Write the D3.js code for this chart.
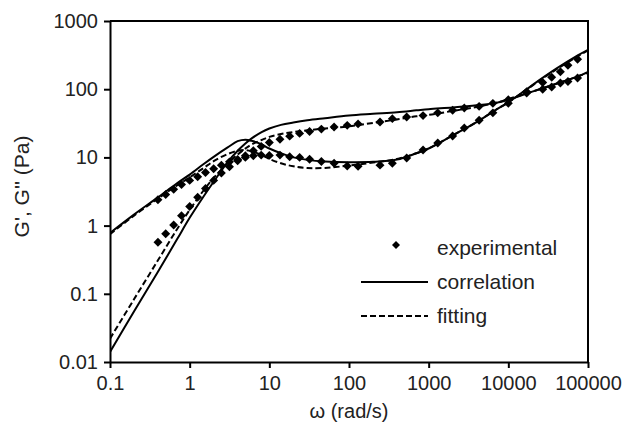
<!DOCTYPE html>
<html>
<head>
<meta charset="utf-8">
<script src="https://cdn.jsdelivr.net/npm/d3@7"></script>
<style>
  body { margin: 0; background: #fff; }
  svg { display: block; font-family: 'Liberation Sans', Arial, sans-serif; }
</style>
</head>
<body>
<svg id="chart" width="628" height="430" viewBox="0 0 628 430"></svg>
<script>
'use strict';

/* global d3 */

// experimental points
var omegaExp = [0.4, 0.5, 0.63, 0.79, 1.0, 1.26, 1.58, 2.0, 2.5, 3.16, 4.0, 5.0, 6.3, 7.9, 10,
  13.6, 18, 24, 32, 45, 65, 95, 130, 245, 350, 530, 850, 1300, 2000, 2800, 4300, 6400,
  10000, 17000, 27000, 35000, 45000, 56000, 74000];
var gPrimeExp = [0.57, 0.76, 1.02, 1.4, 1.9, 2.6, 3.5, 4.6, 5.9, 7.3, 8.9, 10.6, 12.5, 14.5, 16.5,
  18.5, 20.5, 22.5, 24, 26, 28, 29.5, 31, 33, 37, 39, 41, 45, 49, 53, 56, 62,
  70, 88, 100, 108, 123, 130, 146];
var gDoubleExp = [2.4, 2.85, 3.4, 4.0, 4.6, 5.2, 6.0, 6.8, 7.7, 8.6, 9.3, 10, 10.6, 10.8, 10.7,
  10.8, 10.2, 10, 9.4, 8.7, 8.2, 7.5, 7.4, 7.7, 8.2, 9.8, 12.8, 16.3, 20.6, 27, 35, 45,
  62, 92, 125, 150, 180, 225, 275];

// model curves
var omegaModel = [0.1, 0.2, 0.4, 0.7, 1, 1.5, 2, 3, 4, 5, 6, 8, 10, 14, 20, 30, 50, 100, 200,
  400, 700, 1000, 2000, 4000, 7000, 10000, 20000, 40000, 70000, 100000];
var gPrimeCorr = [0.014, 0.055, 0.21, 0.64, 1.3, 2.7, 4.4, 8.5, 12.5, 16, 19, 23.5, 26.5, 30, 32.5,
  35, 37.5, 41, 43.5, 46, 49, 51, 54, 58, 63, 70, 92, 120, 150, 180];
var gDoubleCorr = [0.78, 1.45, 2.6, 4.2, 5.6, 8, 10.2, 14, 17.3, 18.2, 17.5, 15.5, 13.5, 11.5, 10,
  9.2, 8.7, 8.5, 8.6, 9.3, 11.5, 13.5, 21, 33, 50, 64, 115, 200, 300, 376];
var gPrimeFit = [0.022, 0.083, 0.31, 0.9, 1.7, 3.3, 5.0, 8.2, 11, 13.5, 15.5, 18, 20, 22, 23.5,
  25, 26.5, 28.5, 32, 36, 40, 42, 48, 55, 63, 72, 92, 120, 150, 175];
var gDoubleFit = [0.75, 1.4, 2.5, 3.9, 5.1, 7, 8.8, 11.2, 12.5, 12.8, 12.3, 10.8, 9.5, 8.2, 7.4,
  7.0, 7.0, 7.6, 8.4, 9.5, 11.5, 13.5, 21, 33, 50, 64, 113, 195, 290, 370];

var xTicks = [0.1, 1, 10, 100, 1000, 10000, 100000];
var xTickLabels = ['0.1', '1', '10', '100', '1000', '10000', '100000'];
var yTicks = [0.01, 0.1, 1, 10, 100, 1000];
var yTickLabels = ['0.01', '0.1', '1', '10', '100', '1000'];

var legendLabels = ['experimental', 'correlation', 'fitting'];

(function () {
  var svg = d3.select('#chart');
  var margins = { top: 21, right: 40, bottom: 68, left: 110 };
  var width = 628 - margins.left - margins.right;
  var height = 430 - margins.top - margins.bottom;

  var g = svg.append('g').attr('transform', 'translate(' + margins.left + ',' + margins.top + ')');

  var x = d3.scaleLog().domain([0.1, 100000]).range([0, width]);
  var y = d3.scaleLog().domain([0.01, 1000]).range([height, 0]);

  g.append('clipPath').attr('id', 'plot-clip')
    .append('rect').attr('width', width).attr('height', height);

  var line = d3.line()
    .x(function (d) { return x(d[0]); })
    .y(function (d) { return y(d[1]); })
    .curve(d3.curveCatmullRom.alpha(0.5));

  function pairs(xs, ys) {
    return xs.map(function (v, i) { return [v, ys[i]]; });
  }

  var curves = [
    { values: gPrimeCorr, dash: null },
    { values: gDoubleCorr, dash: null },
    { values: gPrimeFit, dash: '6,3' },
    { values: gDoubleFit, dash: '6,3' }
  ];

  var lines = g.append('g').attr('clip-path', 'url(#plot-clip)');
  curves.forEach(function (c) {
    lines.append('path')
      .attr('d', line(pairs(omegaModel, c.values)))
      .attr('fill', 'none')
      .attr('stroke', '#000')
      .attr('stroke-width', 2)
      .attr('stroke-dasharray', c.dash);
  });

  // diamonds
  var diamond = d3.symbol().type(d3.symbolSquare).size(40);
  var pts = pairs(omegaExp, gPrimeExp).concat(pairs(omegaExp, gDoubleExp));
  g.append('g').selectAll('path').data(pts).enter().append('path')
    .attr('d', diamond)
    .attr('fill', '#000')
    .attr('transform', function (d) {
      return 'translate(' + x(d[0]) + ',' + y(d[1]) + ') rotate(45)';
    });

  // axes
  var xAxis = d3.axisBottom(x).tickValues(xTicks).tickSizeInner(6).tickSizeOuter(0).tickPadding(8)
    .tickFormat(function (d, i) { return xTickLabels[i]; });
  var yAxis = d3.axisLeft(y).tickValues(yTicks).tickSizeInner(6).tickSizeOuter(0).tickPadding(14)
    .tickFormat(function (d, i) { return yTickLabels[i]; });

  var gx = g.append('g').attr('transform', 'translate(0,' + height + ')').call(xAxis);
  var gy = g.append('g').call(yAxis);
  [gx, gy].forEach(function (a) {
    a.select('.domain').attr('stroke-width', 2);
    a.selectAll('.tick line').attr('stroke-width', 2);
    a.selectAll('.tick text').attr('font-size', 20).attr('fill', '#222')
      .attr('font-family', "'Liberation Sans', Arial, sans-serif");
  });
  gy.selectAll('.tick text').attr('dx', 8);

  // top and right frame
  g.append('path')
    .attr('d', 'M0,0H' + width + 'V' + height)
    .attr('fill', 'none').attr('stroke', '#000').attr('stroke-width', 2);

  // axis titles
  svg.append('text')
    .attr('x', margins.left + width / 2).attr('y', 418)
    .attr('text-anchor', 'middle').attr('font-size', 20).attr('fill', '#222')
    .text('ω (rad/s)');
  svg.append('text')
    .attr('transform', 'translate(29,' + (margins.top + height / 2 - 5) + ') rotate(-90)')
    .attr('text-anchor', 'middle').attr('font-size', 21).attr('fill', '#222')
    .text('G\', G\'\' (Pa)');

  // legend
  var legend = svg.append('g').attr('transform', 'translate(361,248)');
  legendLabels.forEach(function (label, i) {
    var row = legend.append('g').attr('transform', 'translate(0,' + (i * 34) + ')');
    if (i === 0) {
      row.append('path').attr('d', d3.symbol().type(d3.symbolSquare).size(32)())
        .attr('fill', '#000').attr('transform', 'translate(35,-3) rotate(45)');
    } else {
      row.append('line').attr('x1', 0).attr('x2', 67).attr('y1', 0).attr('y2', 0)
        .attr('stroke', '#000').attr('stroke-width', 2)
        .attr('stroke-dasharray', i === 2 ? '6,3' : null);
    }
    row.append('text').attr('x', 76).attr('y', 7)
      .attr('font-size', 21).attr('fill', '#222').text(label);
  });
})();
</script>
</body>
</html>
